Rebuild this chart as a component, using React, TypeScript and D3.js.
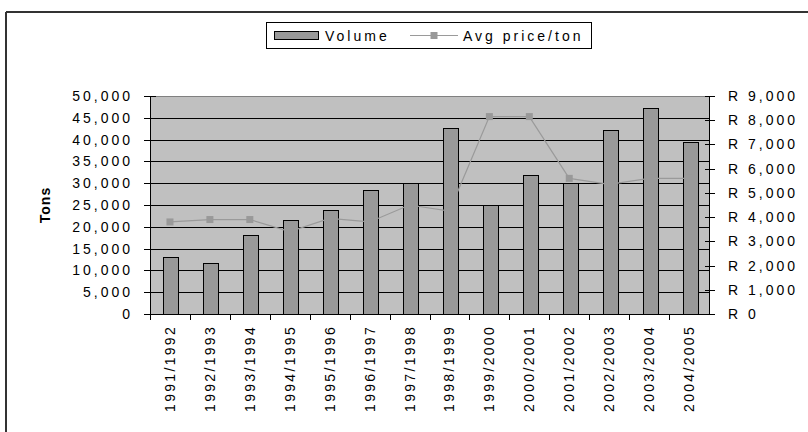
import React from "react";
import * as d3 from "d3";

const categories = [
  "1991/1992", "1992/1993", "1993/1994", "1994/1995", "1995/1996", "1996/1997", "1997/1998",
  "1998/1999", "1999/2000", "2000/2001", "2001/2002", "2002/2003", "2003/2004", "2004/2005",
];
const volume = [13000, 11700, 18200, 21600, 23900, 28500, 30000, 42600, 25000, 31900, 30000, 42200, 47200, 39500];
const avgPrice = [3800, 3900, 3900, 3400, 3950, 3800, 4500, 4250, 8150, 8150, 5600, 5350, 5600, 5600];
const leftTicks = [0, 5000, 10000, 15000, 20000, 25000, 30000, 35000, 40000, 45000, 50000];
const rightTicks = [0, 1000, 2000, 3000, 4000, 5000, 6000, 7000, 8000, 9000];

const W = 808;
const H = 432;
const plot = { left: 150, right: 709, top: 96, bottom: 314 };
const FONT = "Arial, 'Liberation Sans', sans-serif";
const LS = 3;

export default function App() {
  const x = d3.scaleBand<string>().domain(categories).range([plot.left, plot.right]).padding(0);
  const yL = d3.scaleLinear().domain([0, 50000]).range([plot.bottom, plot.top]);
  const yR = d3.scaleLinear().domain([0, 9000]).range([plot.bottom, plot.top]);
  const bw = 15;
  const fmt = d3.format(",");
  const line = d3
    .line<number>()
    .x((_, i) => x(categories[i])! + x.bandwidth() / 2)
    .y((d) => yR(d));

  return (
    <svg
      width={W}
      height={H}
      style={{ position: "absolute", left: 0, top: 0, background: "#fff" }}
      fontFamily={FONT}
    >
      {/* outer frame */}
      <line x1={6} y1={12} x2={W} y2={12} stroke="#333" strokeWidth={2} />
      <line x1={6} y1={12} x2={6} y2={H} stroke="#333" strokeWidth={2} />

      {/* plot background */}
      <rect
        x={plot.left}
        y={plot.top}
        width={plot.right - plot.left}
        height={plot.bottom - plot.top}
        fill="#c0c0c0"
      />
      <line x1={plot.left} x2={plot.right} y1={plot.top + 0.5} y2={plot.top + 0.5} stroke="#808080" />
      {leftTicks.slice(1, -1).map((t) => (
        <line
          key={t}
          x1={plot.left}
          x2={plot.right}
          y1={Math.round(yL(t)) + 0.5}
          y2={Math.round(yL(t)) + 0.5}
          stroke="#000"
        />
      ))}

      {/* bars */}
      {volume.map((v, i) => {
        const cx = x(categories[i])! + x.bandwidth() / 2 + 1;
        return (
          <rect
            key={i}
            x={Math.round(cx - bw / 2) + 0.5}
            y={Math.round(yL(v)) + 0.5}
            width={bw}
            height={Math.round(yL(0)) - Math.round(yL(v))}
            fill="#999999"
            stroke="#000"
            strokeWidth={1}
          />
        );
      })}

      {/* price line */}
      <path d={line(avgPrice) || ""} fill="none" stroke="#9a9a9a" strokeWidth={1.2} />
      {avgPrice.map((p, i) => {
        const cx = x(categories[i])! + x.bandwidth() / 2;
        return <rect key={i} x={cx - 3.5} y={yR(p) - 3.5} width={7} height={7} fill="#999999" />;
      })}

      {/* left axis */}
      <line x1={plot.left + 0.5} x2={plot.left + 0.5} y1={plot.top} y2={plot.bottom + 1} stroke="#000" />
      {leftTicks.map((t) => (
        <g key={t}>
          <line
            x1={plot.left - 6}
            x2={plot.left + 6}
            y1={Math.round(yL(t)) + 0.5}
            y2={Math.round(yL(t)) + 0.5}
            stroke="#000"
          />
          <text
            x={133}
            y={yL(t)}
            textAnchor="end"
            dominantBaseline="central"
            fontSize={14}
            letterSpacing={LS}
            fill="#000"
          >
            {fmt(t)}
          </text>
        </g>
      ))}

      {/* right axis */}
      <line x1={plot.right + 0.5} x2={plot.right + 0.5} y1={plot.top} y2={plot.bottom + 1} stroke="#000" />
      {rightTicks.map((t) => (
        <g key={t}>
          <line
            x1={plot.right - 4}
            x2={plot.right + 6}
            y1={Math.round(yR(t)) + 0.5}
            y2={Math.round(yR(t)) + 0.5}
            stroke="#000"
          />
          <text
            x={728}
            y={yR(t)}
            textAnchor="start"
            dominantBaseline="central"
            fontSize={14}
            letterSpacing={LS}
            fill="#000"
          >
            {"R " + fmt(t)}
          </text>
        </g>
      ))}

      {/* bottom axis */}
      <line x1={plot.left} x2={plot.right + 1} y1={plot.bottom + 0.5} y2={plot.bottom + 0.5} stroke="#000" />
      {categories.map((c, i) => (
        <line
          key={"t" + i}
          x1={Math.round(x(c)!) + 0.5}
          x2={Math.round(x(c)!) + 0.5}
          y1={plot.bottom}
          y2={plot.bottom + 6}
          stroke="#000"
        />
      ))}
      {categories.map((c) => {
        const cx = x(c)! + x.bandwidth() / 2;
        return (
          <text
            key={c}
            transform={`translate(${cx},${325}) rotate(-90)`}
            textAnchor="end"
            dominantBaseline="central"
            fontSize={14}
            letterSpacing={2.3}
            fill="#000"
          >
            {c}
          </text>
        );
      })}

      {/* axis title */}
      <text
        transform={`translate(50,205) rotate(-90)`}
        textAnchor="middle"
        fontSize={14}
        fontWeight="bold"
        letterSpacing={1}
        fill="#000"
      >
        Tons
      </text>

      {/* legend */}
      <rect x={266.5} y={22.5} width={325} height={26} fill="#fff" stroke="#000" />
      <rect x={274.5} y={31.5} width={44} height={8} fill="#999999" stroke="#000" />
      <text x={325} y={36} dominantBaseline="central" fontSize={14} letterSpacing={LS} fill="#000">
        Volume
      </text>
      <line x1={410} x2={458} y1={35.5} y2={35.5} stroke="#9a9a9a" strokeWidth={1.2} />
      <rect x={430.5} y={32} width={7} height={7} fill="#999999" />
      <text x={463} y={36} dominantBaseline="central" fontSize={14} letterSpacing={LS} fill="#000">
        Avg price/ton
      </text>
    </svg>
  );
}
